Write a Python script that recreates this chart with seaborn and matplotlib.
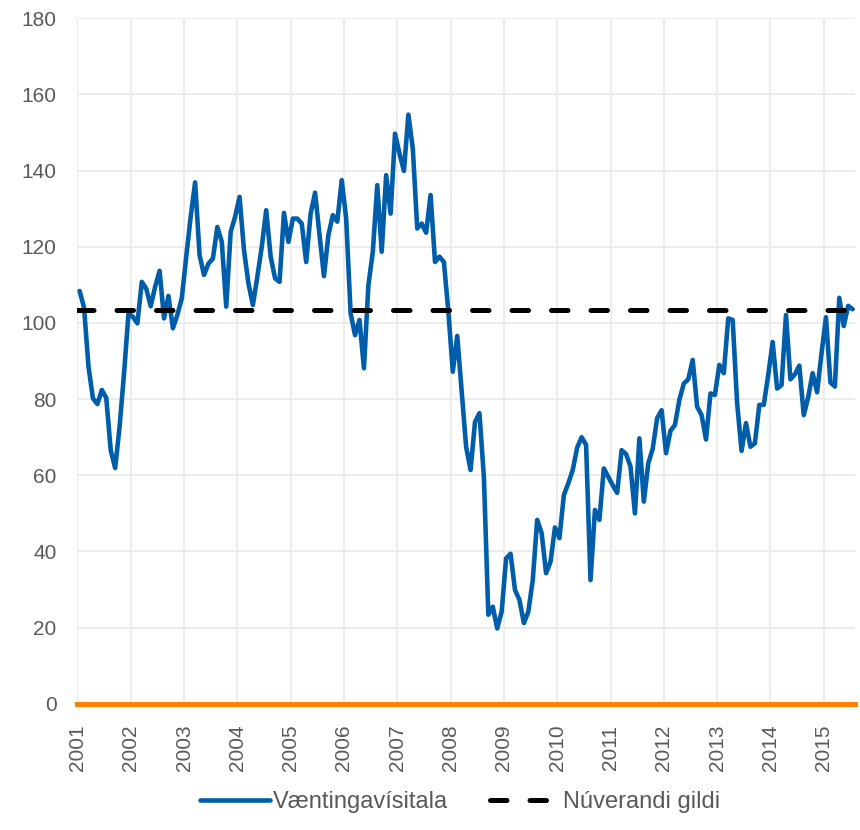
import numpy as np
import pandas as pd
import seaborn as sns
import matplotlib.pyplot as plt

# Væntingavísitala, mánaðarleg gildi frá jan 2001 til júl 2015
vaentingar = [
    108.4, 104.0, 88.5, 80.2, 78.7, 82.4, 80.3, 66.6, 61.9, 72.8, 86.8, 102.5,
    101.6, 99.9, 110.8, 109.0, 104.4, 109.5, 113.7, 101.2, 107.1, 98.6, 102.1, 106.5,
    117.4, 127.9, 136.9, 117.8, 112.6, 115.6, 116.9, 125.2, 121.3, 104.3, 123.9, 127.9,
    133.1, 119.1, 110.4, 104.7, 112.1, 120.0, 129.6, 117.4, 111.7, 110.8, 128.9, 121.3,
    127.4, 127.4, 126.1, 116.0, 128.7, 134.2, 123.1, 112.3, 123.1, 128.3, 126.6, 137.5,
    127.4, 102.5, 96.8, 100.8, 88.1, 109.9, 118.7, 136.2, 118.7, 138.8, 128.7, 149.7,
    144.5, 139.9, 154.7, 145.8, 124.8, 126.1, 123.7, 133.6, 116.0, 117.4, 116.0, 103.0,
    87.2, 96.6, 82.0, 67.5, 61.4, 74.0, 76.3, 59.6, 23.4, 25.5, 19.8, 24.2,
    38.2, 39.4, 29.9, 27.3, 21.2, 24.2, 32.5, 48.3, 44.8, 34.3, 37.3, 46.3,
    43.5, 54.8, 57.9, 61.4, 67.3, 70.0, 68.0, 32.5, 50.9, 48.3, 61.8, 59.6,
    57.4, 55.4, 66.6, 65.6, 62.3, 50.0, 69.7, 53.1, 63.1, 67.0, 75.0, 77.1,
    65.8, 71.7, 73.2, 79.8, 84.1, 85.2, 90.3, 78.0, 75.8, 69.4, 81.5, 81.1,
    89.0, 86.8, 101.2, 100.8, 79.0, 66.4, 73.7, 67.5, 68.4, 78.5, 78.5, 86.3,
    95.0, 82.8, 83.7, 102.1, 85.2, 86.5, 88.8, 75.8, 80.5, 86.8, 81.8, 92.0,
    101.5, 84.4, 83.3, 106.6, 99.2, 104.5, 103.6,
]
nuverandi = 103.5
ar = list(range(2001, 2016))

man = np.arange(len(vaentingar))
df = pd.DataFrame({"t": 2001 + (man + 0.5) / 12, "gildi": vaentingar})

sns.set_style("white")
plt.rcParams["font.family"] = ["Liberation Sans", "DejaVu Sans"]

fig = plt.figure(figsize=(8.6, 8.3), dpi=100)
ax = fig.add_axes([0.090, 0.152, 0.904, 0.826])

sns.lineplot(data=df, x="t", y="gildi", ax=ax, color="#005DAA", linewidth=3.3,
             label="Væntingavísitala", zorder=3)
ax.axhline(nuverandi, color="black", linewidth=3.6, dashes=(3.3, 4.6),
           dash_capstyle="round", label="Núverandi gildi", zorder=4)

ax.set_xlim(2001, 2001 + len(vaentingar) / 12)
ax.set_ylim(0, 180)
ax.set_yticks(range(0, 181, 20))
ax.set_xticks(ar)
ax.set_xticklabels([str(a) for a in ar], rotation=90)
ax.grid(True, color="#EBEBEB", linewidth=1.3)
ax.set_axisbelow(True)
ax.set_xlabel("")
ax.set_ylabel("")

for s in ["top", "right", "left"]:
    ax.spines[s].set_visible(False)
ax.spines["bottom"].set_color("#FF7F00")
ax.spines["bottom"].set_linewidth(3.6)
ax.spines["bottom"].set_zorder(5)

ax.tick_params(axis="both", length=0, labelcolor="#595959")
ax.tick_params(axis="x", labelsize=15, pad=15)
ax.tick_params(axis="y", labelsize=15, pad=15)

ax.legend(loc="center", bbox_to_anchor=(0.535, 0.034), bbox_transform=fig.transFigure,
          ncol=2, frameon=False, fontsize=17, handlelength=3.0, handletextpad=0.12,
          columnspacing=1.75, labelcolor="#595959")

fig.savefig("out.png", dpi=100)
